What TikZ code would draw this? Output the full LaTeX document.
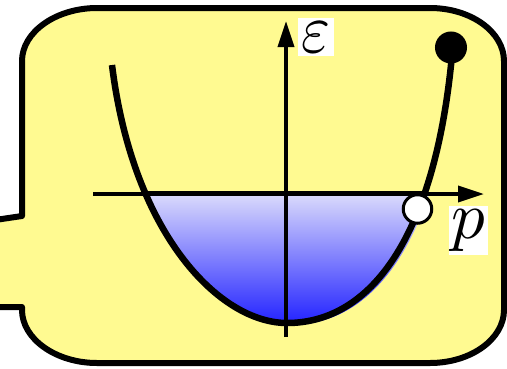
\documentclass[tikz,border=0pt]{standalone}
\usetikzlibrary{arrows.meta}
\definecolor{bgyellow}{RGB}{255,250,145}
\definecolor{topblue}{RGB}{218,218,252}
\definecolor{midblue}{RGB}{165,165,252}
\definecolor{botblue}{RGB}{30,30,255}
\tikzset{
  frame/.style={draw=black, line width=6pt, fill=bgyellow, line join=round},
  axisline/.style={draw=black, line width=3.8pt, -{Triangle[length=26pt,width=16pt]}},
  band/.style={draw=black, line width=6.5pt, line cap=butt},
  labelbox/.style={fill=white},
  dot/.style={circle, draw=black, line width=3pt, inner sep=0pt}
}
\begin{document}
\begin{tikzpicture}[x=1pt,y=-1pt]
\useasboundingbox (0,0) rectangle (507,368);
% callout frame
\draw[frame] (-5,220) -- (22,216) -- (22,61) .. controls (22,32) and (56,8) .. (97,8) -- (430,8)
  .. controls (471,8) and (504,32) .. (504,61) -- (504,310)
  .. controls (504,339) and (471,363) .. (430,363) -- (97,363)
  .. controls (56,363) and (22,339) .. (22,310) -- (22,307) -- (-5,307);
% blue filled region (with slight offset shadow)
\begin{scope}
  \clip (112,65) .. controls (133,235) and (220,323) .. (287,323) .. controls (370,323) and (435,238) .. (452,55) -- cycle
        (116,67) .. controls (137,237) and (224,325) .. (291,325) .. controls (374,325) and (439,240) .. (456,57) -- cycle;
  \clip (90,194) rectangle (480,340);
  \shade[top color=topblue, middle color=midblue, bottom color=botblue] (90,194) rectangle (480,327);
\end{scope}
% axes
\coordinate (xs) at (93,194);
\coordinate (xe) at (484,194);
\coordinate (ys) at (286,337);
\coordinate (ye) at (286,21);
\coordinate (xl) at (143,193.5);
\coordinate (xr) at (424,193.5);
\draw[axisline] (xs) -- (xe);
\draw[axisline] (ys) -- (ye);
\draw[black, line width=5.5pt] (xl) -- (xr);
% dispersion curve
\draw[band] (112,65) .. controls (133,235) and (220,323) .. (287,323) .. controls (370,323) and (435,238) .. (452,55);
% dots
\node[dot, fill=black, minimum size=29pt] (top) at (451,47.5) {};
\node[dot, fill=white, minimum size=28.5pt] (kf) at (417.5,209) {};
% labels
\node[labelbox, inner xsep=0.5pt, inner ysep=0.55pt, xscale=6.2, yscale=7.0] (eps) at (316,37) {$\varepsilon$};
\node[labelbox, inner xsep=0.4pt, inner ysep=0.5pt, scale=6.7] (p) at (468.5,230.5) {$p$};
\end{tikzpicture}
\end{document}
